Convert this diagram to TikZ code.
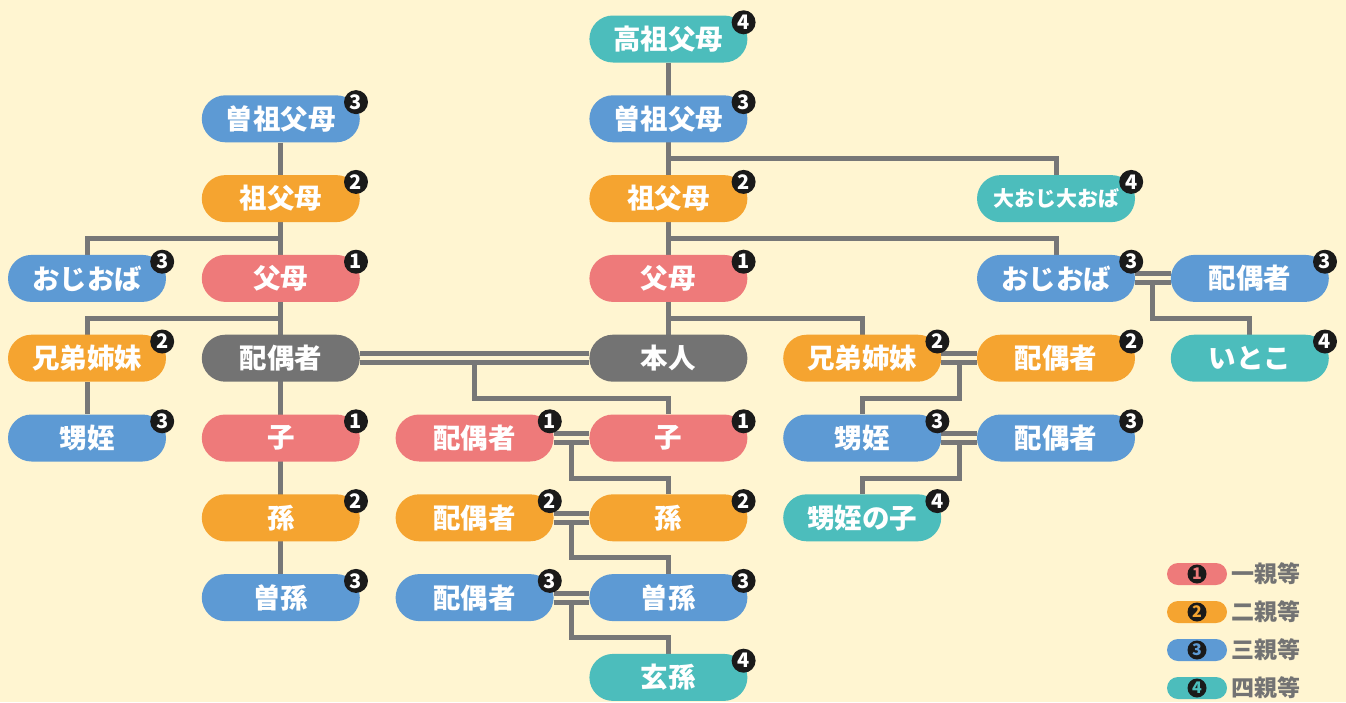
\documentclass[tikz,border=0pt]{standalone}
\usepackage{fontspec}
\newfontfamily\jp{Noto Sans CJK JP}
\usetikzlibrary{calc}
\definecolor{bgc}{HTML}{FFF5D1}
\definecolor{pinkc}{HTML}{EE7A7A}
\definecolor{orangec}{HTML}{F5A430}
\definecolor{bluec}{HTML}{5D9AD4}
\definecolor{tealc}{HTML}{4CBDBC}
\definecolor{grayc}{HTML}{737373}
\definecolor{linec}{HTML}{777777}
\definecolor{badgec}{HTML}{1A1A1A}
\pgfdeclarelayer{lines}
\pgfsetlayers{lines,main}
\tikzset{
  famboxs/.style={rounded corners=23.5pt, minimum width=158pt, minimum height=47pt, inner sep=0pt, text=white, font=\jp\bfseries\fontsize{27.5}{27.5}\selectfont},
  badgeb/.style={circle, fill=badgec, text=white, minimum size=24pt, inner sep=0pt, font=\jp\bfseries\fontsize{20}{20}\selectfont},
  ln/.style={draw=linec, line width=5pt},
  dbl/.style={draw=linec, line width=5pt, double=bgc, double distance=4pt},
  legpill/.style={rounded corners=11pt, minimum width=60pt, minimum height=22pt, inner sep=0pt},
  legbadge/.style={circle, fill=badgec, minimum size=19pt, inner sep=0pt, font=\jp\bfseries\fontsize{16}{16}\selectfont},
  legtext/.style={anchor=west, inner sep=0pt, text=grayc, font=\jp\bfseries\fontsize{23}{23}\selectfont},
}
\newcommand\pbox[6]{%
  \node[famboxs, fill=#4] (#1) at (#2,#3) {#5};
  \node[badgeb] (#1b) at ([xshift=-4pt,yshift=-7pt]#1.north east) {#6};}
\newcommand\legitem[5]{%
  \node[legpill, fill=#3] (#1) at (1197,#2) {};
  \node[legbadge, text=#3] (#1b) at (#1) {#4};
  \node[legtext] (#1t) at (1231,#2) {#5};}
\begin{document}
\begin{tikzpicture}[x=1pt,y=-1pt]
\useasboundingbox (0,0) rectangle (1346,702);
% columns: 87, 280.8, 474.6, 668.4, 862.2, 1056, 1249.8
% rows: 39, 118.8, 198.6, 278.4, 358.2, 438, 517.8, 597.6, 677.4
\pbox{d0}{668.4}{39}{tealc}{高祖父母}{4}
\pbox{d1}{668.4}{118.8}{bluec}{曽祖父母}{3}
\pbox{d2}{668.4}{198.6}{orangec}{祖父母}{2}
\pbox{d3}{668.4}{278.4}{pinkc}{父母}{1}
\node[famboxs, fill=grayc] (d4) at (668.4,358.2) {本人};
\pbox{d5}{668.4}{438}{pinkc}{子}{1}
\pbox{d6}{668.4}{517.8}{orangec}{孫}{2}
\pbox{d7}{668.4}{597.6}{bluec}{曽孫}{3}
\pbox{d8}{668.4}{677.4}{tealc}{玄孫}{4}
%
\pbox{b1}{280.8}{118.8}{bluec}{曽祖父母}{3}
\pbox{b2}{280.8}{198.6}{orangec}{祖父母}{2}
\pbox{b3}{280.8}{278.4}{pinkc}{父母}{1}
\node[famboxs, fill=grayc] (b4) at (280.8,358.2) {配偶者};
\pbox{b5}{280.8}{438}{pinkc}{子}{1}
\pbox{b6}{280.8}{517.8}{orangec}{孫}{2}
\pbox{b7}{280.8}{597.6}{bluec}{曽孫}{3}
%
\pbox{a3}{87}{278.4}{bluec}{おじおば}{3}
\pbox{a4}{87}{358.2}{orangec}{兄弟姉妹}{2}
\pbox{a5}{87}{438}{bluec}{甥姪}{3}
%
\pbox{c5}{474.6}{438}{pinkc}{配偶者}{1}
\pbox{c6}{474.6}{517.8}{orangec}{配偶者}{2}
\pbox{c7}{474.6}{597.6}{bluec}{配偶者}{3}
%
\pbox{e4}{862.2}{358.2}{orangec}{兄弟姉妹}{2}
\pbox{e5}{862.2}{438}{bluec}{甥姪}{3}
\pbox{e6}{862.2}{517.8}{tealc}{甥姪の子}{4}
%
\node[famboxs, fill=tealc, font=\jp\bfseries\fontsize{21}{21}\selectfont] (f2) at (1056,198.6) {大おじ大おば};
\node[badgeb] (f2b) at ([xshift=-4pt,yshift=-7pt]f2.north east) {4};
\pbox{f3}{1056}{278.4}{bluec}{おじおば}{3}
\pbox{f4}{1056}{358.2}{orangec}{配偶者}{2}
\pbox{f5}{1056}{438}{bluec}{配偶者}{3}
%
\pbox{g3}{1249.8}{278.4}{bluec}{配偶者}{3}
\pbox{g4}{1249.8}{358.2}{tealc}{いとこ}{4}
%
\legitem{l1}{574}{pinkc}{1}{一親等}
\legitem{l2}{612}{orangec}{2}{二親等}
\legitem{l3}{650}{bluec}{3}{三親等}
\legitem{l4}{688}{tealc}{4}{四親等}
%
\coordinate (j1) at ($(b4.east)!.5!(d4.west)$);
\coordinate (j2) at ($(c5.east)!.5!(d5.west)$);
\coordinate (j3) at ($(c6.east)!.5!(d6.west)$);
\coordinate (j4) at ($(c7.east)!.5!(d7.west)$);
\coordinate (j5) at ($(e4.east)!.5!(f4.west)$);
\coordinate (j6) at ($(e5.east)!.5!(f5.west)$);
\coordinate (j7) at ($(f3.east)!.5!(g3.west)$);
\begin{pgfonlayer}{lines}
\fill[bgc] (0,0) rectangle (1346,702);
% right family tree
\draw[ln] (d0) -- (d4);
\draw[ln] ($(d1)!.5!(d2)$) -| (f2);
\draw[ln] ($(d2)!.5!(d3)$) -| (f3);
\draw[ln] ($(d3)!.5!(d4)$) -| (e4);
% left family tree
\draw[ln] (b1) -- (b7);
\draw[ln] ($(b2)!.5!(b3)$) -| (a3);
\draw[ln] ($(b3)!.5!(b4)$) -| (a4);
\draw[ln] (a4) -- (a5);
% descendants from couples
\draw[ln] (j1) -- ++(0,40) -| (d5);
\draw[ln] (j2) -- ++(0,40) -| (d6);
\draw[ln] (j3) -- ++(0,40) -| (d7);
\draw[ln] (j4) -- ++(0,40) -| (d8);
\draw[ln] (j5) -- ++(0,40) -| (e5);
\draw[ln] (j6) -- ++(0,40) -| (e6);
\draw[ln] (j7) -- ++(0,40) -| (g4);
% marriage double lines
\draw[dbl] (b4) -- (d4);
\draw[dbl] (c5) -- (d5);
\draw[dbl] (c6) -- (d6);
\draw[dbl] (c7) -- (d7);
\draw[dbl] (e4) -- (f4);
\draw[dbl] (e5) -- (f5);
\draw[dbl] (f3) -- (g3);
\end{pgfonlayer}
\end{tikzpicture}
\end{document}
